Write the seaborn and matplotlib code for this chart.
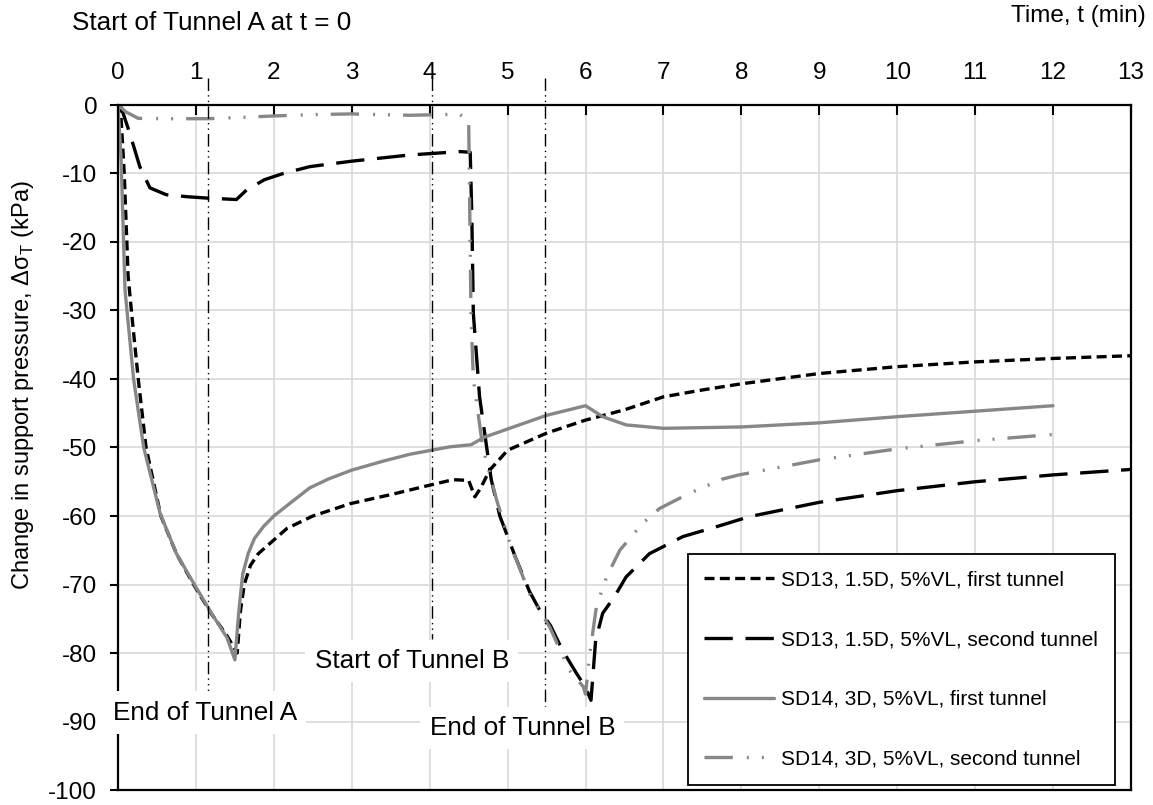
import numpy as np
import pandas as pd
import matplotlib
matplotlib.use('Agg')
import matplotlib.pyplot as plt
import seaborn as sns

# ---- data (time in min, change in pressure in kPa)
names = ['SD13, 1.5D, 5%VL, first tunnel',
         'SD13, 1.5D, 5%VL, second tunnel',
         'SD14, 3D, 5%VL, first tunnel',
         'SD14, 3D, 5%VL, second tunnel']

t_sd13_first = [0.0, 0.03, 0.08, 0.13, 0.175, 0.26, 0.36, 0.55, 0.75, 0.97, 1.2, 1.4,
                1.53, 1.57, 1.62, 1.7, 1.8, 1.95, 2.17, 2.5, 2.98, 3.53, 4.0, 4.3, 4.5,
                4.58, 4.65, 4.77, 5.0, 5.5, 6.0, 6.5, 7.0, 7.5, 8.0, 9.0, 10.0, 11.0,
                12.0, 13.0]
dp_sd13_first = [0, 0, -10, -25, -30.4, -40, -50, -60, -65.5, -70, -74.3, -77.5,
                 -80, -74, -70, -67.2, -65.5, -64, -61.8, -60, -58.2, -56.8, -55.5, -54.7, -54.8,
                 -57.2, -56, -53.3, -50.4, -47.9, -46, -44.5, -42.6, -41.6, -40.7, -39.2, -38.2, -37.5,
                 -37, -36.6]

t_sd13_second = [0.0, 0.03, 0.15, 0.28, 0.41, 0.62, 0.9, 1.16, 1.52, 1.65, 1.88, 2.12,
                 2.46, 3.0, 3.74, 4.39, 4.52, 4.54, 4.56, 4.64, 4.79, 4.9, 5.1, 5.28,
                 5.41, 5.55, 5.7, 5.88, 6.0, 6.07, 6.13, 6.22, 6.37, 6.52, 6.82, 7.25,
                 7.67, 8.1, 9.0, 10.0, 11.0, 12.0, 13.0]
dp_sd13_second = [0, 0, -4.1, -9, -12.1, -13.1, -13.4, -13.6, -13.8, -12.4, -10.9, -10,
                  -9, -8.2, -7.3, -6.8, -6.9, -15.8, -30.4, -42.6, -54.7, -60, -66, -71,
                  -73.7, -76, -79.5, -82.9, -85, -86.9, -78.1, -74.2, -71.8, -68.9, -65.5, -63,
                  -61.6, -60.1, -58, -56.3, -55, -54, -53.2]

t_sd14_first = [0.0, 0.04, 0.09, 0.2, 0.33, 0.54, 0.75, 0.97, 1.2, 1.4, 1.5, 1.55,
                1.6, 1.67, 1.75, 1.87, 2.0, 2.2, 2.46, 2.7, 3.0, 3.4, 3.74, 4.26, 4.53,
                4.7, 5.0, 5.5, 6.0, 6.22, 6.52, 7.0, 8.0, 9.0, 10.0, 11.0, 12.0]
dp_sd14_first = [0, -8, -27, -40, -50, -59.6, -65.5, -69.8, -74.2, -77.8, -81, -74,
                 -68.5, -65.5, -63.3, -61.5, -60, -58.2, -55.9, -54.6, -53.3, -52, -51, -49.9, -49.6,
                 -48.5, -47.3, -45.3, -43.9, -45.5, -46.7, -47.2, -47.0, -46.4, -45.5, -44.7, -43.9]

t_sd14_second = [0.0, 0.1, 0.26, 0.6, 1.16, 1.6, 2.0, 2.5, 3.0, 3.74, 4.38, 4.5,
                 4.53, 4.56, 4.68, 4.86, 5.03, 5.28, 5.54, 5.79, 5.97, 6.0, 6.05, 6.14,
                 6.27, 6.44, 6.73, 6.95, 7.33, 7.76, 7.97, 9.0, 10.0, 11.0, 12.0]
dp_sd14_second = [0, -1.0, -1.95, -2.0, -2.0, -1.8, -1.6, -1.4, -1.3, -1.5, -1.35, -2.2,
                  -30.4, -40, -49.9, -57.7, -64, -71.3, -76.2, -82.5, -84.9, -86, -80.5, -73.2,
                  -68.9, -65, -61.1, -58.9, -56.7, -54.6, -54, -51.8, -50.2, -49, -48.1]

# construction events
event_labels = ['End of Tunnel A', 'Start of Tunnel B', 'End of Tunnel B']
event_t = [1.16, 4.03, 5.48]
event_line_end = [-86, -78, -88]
event_text_xy = [(1.12, -88.7), (3.77, -81.2), (5.19, -91.0)]

x_ticks = list(range(0, 14))
y_ticks = list(range(-100, 1, 10))

GRAY = '#878787'


def build_frame():
    parts = []
    for name, t, dp in zip(names,
                           [t_sd13_first, t_sd13_second, t_sd14_first, t_sd14_second],
                           [dp_sd13_first, dp_sd13_second, dp_sd14_first, dp_sd14_second]):
        parts.append(pd.DataFrame({'t': t, 'dp': dp, 'series': name}))
    return pd.concat(parts, ignore_index=True)


def main():
    sns.set_style('white')
    plt.rcParams['font.family'] = ['Liberation Sans', 'DejaVu Sans']
    plt.rcParams['axes.unicode_minus'] = False
    plt.rcParams['text.color'] = 'black'
    plt.rcParams['xtick.color'] = 'black'
    plt.rcParams['ytick.color'] = 'black'
    plt.rcParams['axes.labelcolor'] = 'black'

    df = build_frame()

    fig = plt.figure(figsize=(11.53, 8.05), dpi=100)
    ax = fig.add_axes([118 / 1153, 1 - 790 / 805, 1013 / 1153, 685 / 805])

    palette = {names[0]: 'black', names[1]: 'black', names[2]: GRAY, names[3]: GRAY}
    dashes = {names[0]: (3, 1.6),
              names[1]: (8.5, 3.8),
              names[2]: '',
              names[3]: (8.5, 4.2, 0.6, 3.9, 0.6, 3.9)}

    sns.lineplot(data=df, x='t', y='dp', hue='series', style='series',
                 hue_order=names, style_order=names,
                 palette=palette, dashes=dashes, sort=False, estimator=None,
                 linewidth=2.4, ax=ax)

    # event lines (dash-dot-dot), starting a bit above the frame
    for t, bottom in zip(event_t, event_line_end):
        ax.plot([t, t], [4, bottom], color='black', lw=1.0,
                dashes=(9, 3, 1, 3, 1, 3), clip_on=False, zorder=4)

    for label, (tx, ty) in zip(event_labels, event_text_xy):
        ax.text(tx, ty, label, ha='center', va='center', fontsize=18.8, zorder=6,
                bbox=dict(boxstyle='square,pad=0.35', facecolor='white', edgecolor='none'))

    ax.set_xlim(0, 13)
    ax.set_ylim(-100, 0)
    ax.set_xticks(x_ticks)
    ax.set_yticks(y_ticks)
    ax.xaxis.tick_top()
    ax.tick_params(axis='x', top=True, bottom=False, direction='in', length=7,
                   width=1.5, pad=15, labelsize=17.5)
    ax.tick_params(axis='y', left=True, direction='out', length=6, width=1.5,
                   pad=9, labelsize=17.5)
    ax.grid(True, color='#d9d9d9', lw=1.2)
    ax.set_axisbelow(True)
    for s in ax.spines.values():
        s.set_color('black')
        s.set_linewidth(1.6)

    ax.set_xlabel('')
    ax.set_ylabel(r'Change in support pressure, Δσ$_\mathregular{T}$ (kPa)', fontsize=17)
    ax.yaxis.set_label_coords(-0.081, 0.591)

    sns.move_legend(ax, loc='lower right', bbox_to_anchor=(0.984, 0.007), title=None,
                    fontsize=15, frameon=True, fancybox=False, edgecolor='black',
                    framealpha=1, handlelength=3.35, handletextpad=0.35,
                    labelspacing=1.95, borderpad=0.8, borderaxespad=0)
    ax.get_legend().get_frame().set_linewidth(1.3)

    fig.text(72 / 1153, 1 - 23 / 805, 'Start of Tunnel A at t = 0', ha='left',
             va='center', fontsize=18.8)
    fig.text(1146 / 1153, 1 - 16 / 805, 'Time, t (min)', ha='right', va='center',
             fontsize=17.5)

    fig.savefig('out.png', dpi=100)


if __name__ == '__main__':
    main()
